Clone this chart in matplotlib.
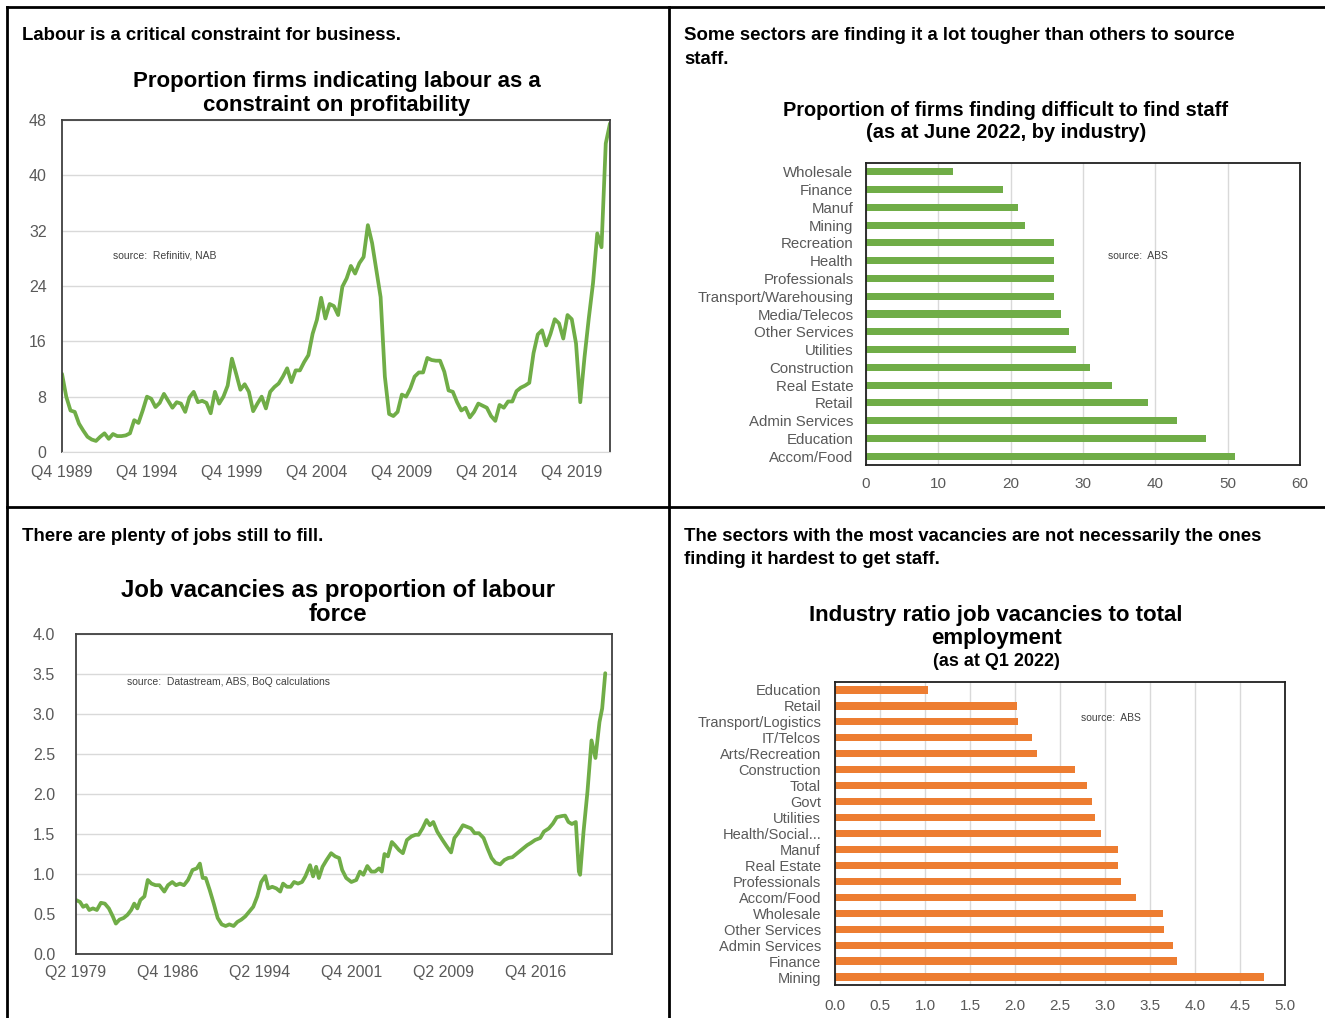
import matplotlib
matplotlib.use('Agg')
import matplotlib.pyplot as plt
from matplotlib.lines import Line2D

plt.rcParams['font.family'] = ['Liberation Sans', 'DejaVu Sans']

# ---------------- data ----------------
# Proportion of firms indicating labour as a constraint (quarterly from Q4 1989)
labour_values = [
    11.3, 8.0, 6.0, 5.8, 4.1, 3.1, 2.2, 1.8, 1.6, 2.2,
    2.7, 1.9, 2.6, 2.3, 2.3, 2.4, 2.7, 4.6, 4.2, 6.0,
    8.0, 7.7, 6.5, 7.1, 8.4, 7.4, 6.4, 7.2, 7.0, 5.8,
    7.9, 8.7, 7.2, 7.4, 7.1, 5.6, 8.7, 7.0, 8.0, 9.6,
    13.5, 11.3, 9.0, 9.8, 8.7, 5.9, 7.0, 8.0, 6.3, 8.7,
    9.4, 9.9, 10.9, 12.1, 10.1, 11.8, 11.8, 13.0, 14.0, 17.1,
    19.1, 22.3, 19.3, 21.4, 21.1, 19.8, 23.9, 25.1, 26.9, 25.8,
    27.3, 28.2, 32.8, 30.2, 26.3, 22.4, 10.9, 5.5, 5.2, 5.8,
    8.3, 8.0, 9.2, 10.9, 11.5, 11.5, 13.6, 13.3, 13.2, 13.2,
    11.6, 8.9, 8.7, 7.2, 6.0, 6.4, 5.0, 5.8, 7.0, 6.7,
    6.4, 5.2, 4.5, 6.8, 6.4, 7.3, 7.3, 8.8, 9.3, 9.6,
    10.0, 14.3, 17.0, 17.6, 15.4, 17.1, 19.2, 18.6, 16.4, 19.8,
    19.2, 15.7, 7.2, 13.7, 19.3, 24.4, 31.6, 29.6, 44.6, 47.5,
]
labour_tick_labels = ['Q4 1989', 'Q4 1994', 'Q4 1999', 'Q4 2004',
                      'Q4 2009', 'Q4 2014', 'Q4 2019']

# Job vacancies as proportion of labour force (decimal year, %)
vac_year = [
    1979.25, 1979.58, 1979.83, 1980.10, 1980.33, 1980.63, 1980.95, 1981.28, 1981.60, 1981.93,
    1982.25, 1982.50, 1982.80, 1983.13, 1983.45, 1983.75, 1984.00, 1984.25, 1984.50, 1984.83,
    1985.10, 1985.40, 1985.73, 1986.05, 1986.45, 1986.75, 1987.10, 1987.40, 1987.73, 1988.05,
    1988.38, 1988.75, 1989.10, 1989.35, 1989.58, 1989.83, 1990.15, 1990.48, 1990.80, 1991.13,
    1991.45, 1991.75, 1992.10, 1992.40, 1992.73, 1993.05, 1993.38, 1993.70, 1994.03, 1994.35,
    1994.68, 1994.93, 1995.25, 1995.58, 1995.90, 1996.13, 1996.45, 1996.75, 1997.03, 1997.35,
    1997.68, 1997.95, 1998.33, 1998.58, 1998.83, 1999.05, 1999.35, 1999.68, 2000.05, 2000.38,
    2000.70, 2000.95, 2001.28, 2001.70, 2002.10, 2002.40, 2002.68, 2003.00, 2003.33, 2003.63,
    2003.95, 2004.18, 2004.40, 2004.68, 2005.00, 2005.25, 2005.58, 2005.90, 2006.23, 2006.60,
    2006.93, 2007.18, 2007.50, 2007.83, 2008.10, 2008.38, 2008.70, 2009.13, 2009.50, 2009.83,
    2010.10, 2010.40, 2010.80, 2011.13, 2011.45, 2011.75, 2012.10, 2012.48, 2012.80, 2013.13,
    2013.45, 2013.83, 2014.18, 2014.50, 2014.83, 2015.23, 2015.63, 2016.03, 2016.35, 2016.68,
    2017.10, 2017.40, 2017.80, 2018.13, 2018.45, 2018.88, 2019.13, 2019.40, 2019.68, 2020.00,
    2020.25, 2020.35, 2020.63, 2020.95, 2021.28, 2021.60, 2021.93, 2022.15, 2022.40,
]
vac_values = [
    0.675, 0.65, 0.59, 0.61, 0.55, 0.57, 0.55, 0.64, 0.63, 0.57,
    0.47, 0.38, 0.43, 0.45, 0.49, 0.55, 0.63, 0.57, 0.675, 0.72,
    0.925, 0.88, 0.86, 0.86, 0.78, 0.86, 0.90, 0.86, 0.88, 0.86,
    0.925, 1.05, 1.07, 1.13, 0.95, 0.95, 0.80, 0.63, 0.45, 0.37,
    0.35, 0.37, 0.35, 0.40, 0.43, 0.47, 0.53, 0.59, 0.72, 0.90,
    0.975, 0.82, 0.84, 0.82, 0.78, 0.88, 0.84, 0.84, 0.90, 0.88,
    0.90, 0.97, 1.11, 0.97, 1.09, 0.95, 1.09, 1.175, 1.26, 1.22,
    1.20, 1.05, 0.95, 0.90, 0.925, 1.03, 0.99, 1.10, 1.03, 1.03,
    1.07, 1.03, 1.25, 1.22, 1.40, 1.36, 1.30, 1.26, 1.425, 1.47,
    1.49, 1.49, 1.57, 1.675, 1.61, 1.65, 1.53, 1.425, 1.34, 1.27,
    1.45, 1.51, 1.61, 1.59, 1.57, 1.51, 1.51, 1.45, 1.32, 1.20,
    1.14, 1.12, 1.175, 1.20, 1.21, 1.26, 1.31, 1.36, 1.39, 1.425,
    1.45, 1.53, 1.57, 1.63, 1.71, 1.725, 1.73, 1.65, 1.625, 1.65,
    1.03, 0.99, 1.53, 2.03, 2.67, 2.45, 2.90, 3.07, 3.51,
]
vac_tick_years = [1979.25, 1986.75, 1994.25, 2001.75, 2009.25, 2016.75]
vac_tick_labels = ['Q2 1979', 'Q4 1986', 'Q2 1994', 'Q4 2001', 'Q2 2009', 'Q4 2016']

# Proportion of firms finding it difficult to find staff (June 2022)
staff_industries = ['Wholesale', 'Finance', 'Manuf', 'Mining', 'Recreation', 'Health',
                    'Professionals', 'Transport/Warehousing', 'Media/Telecos',
                    'Other Services', 'Utilities', 'Construction', 'Real Estate',
                    'Retail', 'Admin Services', 'Education', 'Accom/Food']
staff_values = [12, 19, 21, 22, 26, 26, 26, 26, 27, 28, 29, 31, 34, 39, 43, 47, 51]

# Industry ratio job vacancies to total employment (Q1 2022)
ratio_industries = ['Education', 'Retail', 'Transport/Logistics', 'IT/Telcos',
                    'Arts/Recreation', 'Construction', 'Total', 'Govt', 'Utilities',
                    'Health/Social...', 'Manuf', 'Real Estate', 'Professionals',
                    'Accom/Food', 'Wholesale', 'Other Services', 'Admin Services',
                    'Finance', 'Mining']
ratio_values = [1.03, 2.02, 2.03, 2.19, 2.24, 2.67, 2.80, 2.86, 2.89, 2.95,
                3.14, 3.14, 3.18, 3.34, 3.64, 3.66, 3.75, 3.80, 4.77]

# ---------------- styling ----------------
W, H = 1325, 1018
GREEN = '#70AD47'
ORANGE = '#ED7D31'
TICK = '#595959'
GRID = '#D9D9D9'
SPINE = '#404040'

fig = plt.figure(figsize=(W / 100, H / 100), dpi=100)


def fx(px):
    return px / W


def fy(py):
    return 1 - py / H


def axes_px(left, top, right, bottom):
    return fig.add_axes([fx(left), fy(bottom), (right - left) / W, (bottom - top) / H])


# panel borders
for (x0, y0, x1, y1) in [(7, 7, W, 7), (7, 7, 7, H), (7, 507, W, 507), (669, 7, 669, H)]:
    fig.add_artist(Line2D([fx(x0), fx(x1)], [fy(y0), fy(y1)], transform=fig.transFigure,
                          color='black', lw=2.0))

# panel headers
hdr = dict(fontsize=13.4, fontweight='bold', color='black', ha='left', va='top')
fig.text(fx(22), fy(27), 'Labour is a critical constraint for business.', **hdr)
fig.text(fx(684), fy(27), 'Some sectors are finding it a lot tougher than others to source\nstaff.',
         linespacing=1.5, **hdr)
fig.text(fx(22), fy(528), 'There are plenty of jobs still to fill.', **hdr)
fig.text(fx(684), fy(528), 'The sectors with the most vacancies are not necessarily the ones\nfinding it hardest to get staff.',
         linespacing=1.5, **hdr)

# chart titles
fig.text(fx(337), fy(93.5), 'Proportion firms indicating labour as a\nconstraint on profitability',
         ha='center', va='center', fontsize=16, fontweight='bold', linespacing=1.2)
fig.text(fx(1006), fy(121), 'Proportion of firms finding difficult to find staff\n(as at June 2022, by industry)',
         ha='center', va='center', fontsize=14.4, fontweight='bold', linespacing=1.2)
fig.text(fx(338), fy(602.5), 'Job vacancies as proportion of labour\nforce',
         ha='center', va='center', fontsize=17.3, fontweight='bold', linespacing=1.05)
fig.text(fx(996), fy(627), 'Industry ratio job vacancies to total\nemployment',
         ha='center', va='center', fontsize=16, fontweight='bold', linespacing=1.12)
fig.text(fx(996), fy(661), '(as at Q1 2022)',
         ha='center', va='center', fontsize=13, fontweight='bold')

# ---------- top-left: labour constraint line ----------
ax1 = axes_px(62, 120, 610, 452)
ax1.plot(range(len(labour_values)), labour_values, color=GREEN, lw=2.7,
         solid_joinstyle='round', solid_capstyle='round')
ax1.set_xlim(0, len(labour_values) - 1)
ax1.set_ylim(0, 48)
ax1.set_yticks(range(0, 49, 8))
ax1.set_xticks(range(0, 20 * len(labour_tick_labels), 20))
ax1.set_xticklabels(labour_tick_labels)
ax1.grid(axis='y', color=GRID, lw=1.0)
ax1.set_axisbelow(True)
ax1.tick_params(length=0, labelsize=11.5, labelcolor=TICK)
ax1.tick_params(axis='y', pad=11)
ax1.tick_params(axis='x', pad=9)
for s in ['left', 'top', 'right']:
    ax1.spines[s].set_color(SPINE)
    ax1.spines[s].set_linewidth(1.3)
ax1.spines['bottom'].set_color(GRID)
ax1.text(0.093, 0.593, 'source:  Refinitiv, NAB', transform=ax1.transAxes,
         fontsize=7.5, color='#404040', va='center', ha='left')

# ---------- bottom-left: vacancies line ----------
ax3 = axes_px(76, 634, 612, 954)
ax3.plot(vac_year, vac_values, color=GREEN, lw=2.7,
         solid_joinstyle='round', solid_capstyle='round')
ax3.set_xlim(vac_tick_years[0], 2022.95)
ax3.set_ylim(0, 4.0)
ax3.set_yticks([i * 0.5 for i in range(9)])
ax3.set_yticklabels([f'{i * 0.5:.1f}' for i in range(9)])
ax3.set_xticks(vac_tick_years)
ax3.set_xticklabels(vac_tick_labels)
ax3.grid(axis='y', color=GRID, lw=1.0)
ax3.set_axisbelow(True)
ax3.tick_params(length=0, labelsize=11.5, labelcolor=TICK)
ax3.tick_params(axis='y', pad=15)
ax3.tick_params(axis='x', pad=8)
for s in ['left', 'top', 'right', 'bottom']:
    ax3.spines[s].set_color(SPINE)
    ax3.spines[s].set_linewidth(1.3)
ax3.text(0.095, 0.85, 'source:  Datastream, ABS, BoQ calculations', transform=ax3.transAxes,
         fontsize=7.5, color='#404040', va='center', ha='left')

# ---------- top-right: staff difficulty bars ----------
ax2 = axes_px(866, 163, 1300, 465)
ax2.barh(range(len(staff_values)), staff_values, height=0.4, color=GREEN)
ax2.set_ylim(len(staff_values) - 0.5, -0.5)
ax2.set_yticks(range(len(staff_industries)))
ax2.set_yticklabels(staff_industries)
ax2.set_xlim(0, 60)
ax2.set_xticks(range(0, 61, 10))
ax2.grid(axis='x', color=GRID, lw=1.0)
ax2.set_axisbelow(True)
ax2.tick_params(length=0, labelsize=11, labelcolor=TICK)
ax2.tick_params(axis='y', pad=9, labelsize=10.8)
ax2.tick_params(axis='x', pad=9)
for s in ax2.spines.values():
    s.set_color('#202020')
    s.set_linewidth(1.3)
ax2.text(0.558, 0.692, 'source:  ABS', transform=ax2.transAxes,
         fontsize=7.5, color='#404040', va='center', ha='left')

# ---------- bottom-right: vacancy ratio bars ----------
ax4 = axes_px(835, 682, 1285, 985)
ax4.barh(range(len(ratio_values)), ratio_values, height=0.45, color=ORANGE)
ax4.set_ylim(len(ratio_values) - 0.5, -0.5)
ax4.set_yticks(range(len(ratio_industries)))
ax4.set_yticklabels(ratio_industries)
ax4.set_xlim(0, 5.0)
ax4.set_xticks([i * 0.5 for i in range(11)])
ax4.set_xticklabels([f'{i * 0.5:.1f}' for i in range(11)])
ax4.grid(axis='x', color=GRID, lw=1.0)
ax4.set_axisbelow(True)
ax4.tick_params(length=0, labelsize=11, labelcolor=TICK)
ax4.tick_params(axis='y', pad=10, labelsize=10.5)
ax4.tick_params(axis='x', pad=10)
for s in ax4.spines.values():
    s.set_color('#202020')
    s.set_linewidth(1.3)
ax4.text(0.547, 0.881, 'source:  ABS', transform=ax4.transAxes,
         fontsize=7.5, color='#404040', va='center', ha='left')

fig.savefig('out.png', dpi=100)
